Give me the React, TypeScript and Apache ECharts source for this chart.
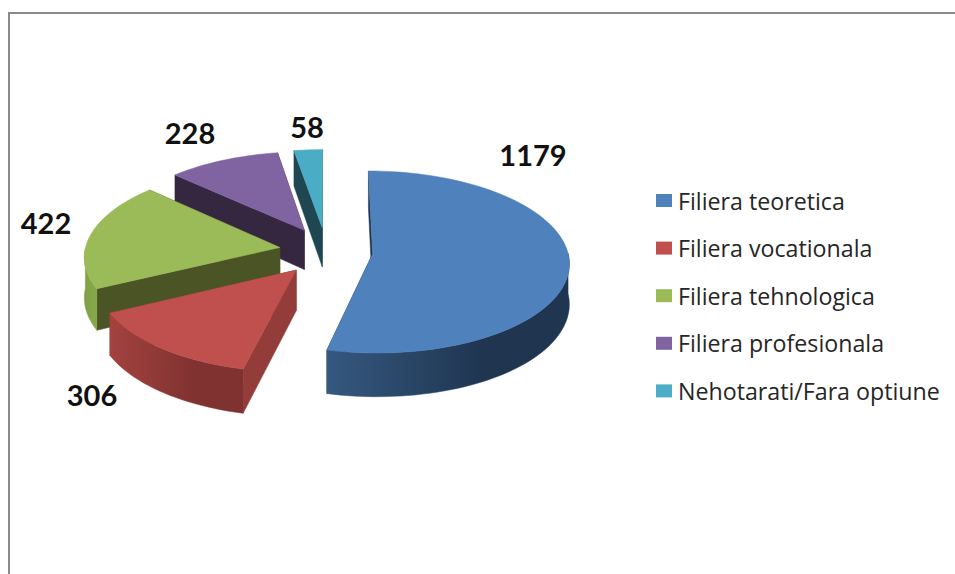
import React, { useEffect, useRef } from "react";
import * as echarts from "echarts";

const categories = [
  "Filiera teoretica",
  "Filiera vocationala",
  "Filiera tehnologica",
  "Filiera profesionala",
  "Nehotarati/Fara optiune",
];
const values = [1179, 306, 422, 228, 58];

const topColors = ["#4f81bd", "#c0504d", "#9bbb59", "#8064a2", "#4bacc6"];
const cutColors = ["#1f3550", "#933c3a", "#4b5425", "#362741", "#1e4752"];
const rimStops = [
  ["#35587f", "#1f3550"],
  ["#a3423f", "#7f3230"],
  ["#7f9f42", "#86a64a"],
  ["#5f4a7a", "#5f4a7a"],
  ["#38808f", "#38808f"],
];
const labelPositions = [
  [533, 154],
  [92, 394],
  [46, 222],
  [190, 132],
  [307, 126],
];

const CX = 326;
const CY = 251;
const RX = 195;
const RY = 90.5;
const PERSPECTIVE = 0.09;
const EXPLODE_X = 0.24;
const EXPLODE_Y = 0.265;
const DEPTH = 40;

const total = values.reduce((a, b) => a + b, 0);

function sliceAngles(i: number) {
  let start = 0;
  for (let k = 0; k < i; k++) start += values[k];
  const a0 = (start / total) * Math.PI * 2;
  const a1 = ((start + values[i]) / total) * Math.PI * 2;
  return [a0, a1];
}

function project(px: number, py: number, lift: number) {
  const s = 1 + PERSPECTIVE * py;
  return [CX + RX * px * s, CY + RY * py * s + lift * DEPTH * s];
}

function buildSlice(i: number) {
  const [a0, a1] = sliceAngles(i);
  const mid = (a0 + a1) / 2;
  const ex = EXPLODE_X * Math.sin(mid);
  const ey = -EXPLODE_Y * Math.cos(mid);
  const steps = Math.max(4, Math.round(((a1 - a0) * 180) / Math.PI / 2));
  const rim: number[][] = [];
  const frontRim: number[][] = [];
  const frontLow: number[][] = [];
  for (let n = 0; n <= steps; n++) {
    const a = a0 + ((a1 - a0) * n) / steps;
    const px = ex + Math.sin(a);
    const py = ey - Math.cos(a);
    rim.push(project(px, py, 0));
    if (Math.cos(a) < 0.02) {
      frontRim.push(project(px, py, 0));
      frontLow.push(project(px, py, 1));
    }
  }
  const rimLowStart = project(ex + Math.sin(a0), ey - Math.cos(a0), 1);
  const rimLowEnd = project(ex + Math.sin(a1), ey - Math.cos(a1), 1);
  const tip = project(ex, ey, 0);
  const tipLow = project(ex, ey, 1);
  return { rim, frontRim, frontLow, rimLowStart, rimLowEnd, tip, tipLow };
}

function poly(points: number[][], fill: any) {
  return {
    type: "polygon",
    shape: { points },
    style: { fill, stroke: fill, lineWidth: 0.5 },
  };
}

function makeRenderItem(i: number) {
  return () => {
    const { rim, frontRim, frontLow, rimLowStart, rimLowEnd, tip, tipLow } = buildSlice(i);
    const last = rim.length - 1;
    const wallGradient = new echarts.graphic.LinearGradient(0, 0, 1, 0, [
      { offset: 0, color: rimStops[i][0] },
      { offset: 0.65, color: rimStops[i][1] },
      { offset: 1, color: rimStops[i][1] },
    ]);
    const children: any[] = [
      poly([tip, rim[0], rimLowStart, tipLow], cutColors[i]),
      poly([tip, rim[last], rimLowEnd, tipLow], cutColors[i]),
    ];
    if (frontRim.length > 1) {
      children.push(poly([...frontRim, ...frontLow.slice().reverse()], wallGradient));
    }
    children.push(poly([tip, ...rim], topColors[i]));
    children.push({
      type: "text",
      style: {
        text: String(values[i]),
        x: labelPositions[i][0],
        y: labelPositions[i][1],
        align: "center",
        verticalAlign: "middle",
        fill: "#111111",
        font: 'bold 29px Lato, "Open Sans", sans-serif',
      },
    });
    return { type: "group", children };
  };
}

export default function App() {
  const ref = useRef<HTMLDivElement>(null);
  useEffect(() => {
    document.body.style.margin = "0";
    const chart = echarts.init(ref.current!, null, { renderer: "svg" });
    const series = categories
      .map((name, i) => ({
        type: "custom",
        name,
        coordinateSystem: "none",
        renderItem: makeRenderItem(i),
        itemStyle: { color: topColors[i] },
        data: [values[i]],
        silent: true,
      }))
      .reverse();
    chart.setOption({
      animation: false,
      backgroundColor: "#ffffff",
      legend: {
        data: categories,
        orient: "vertical",
        left: 651,
        top: 184,
        icon: "rect",
        itemWidth: 16,
        itemHeight: 13,
        itemGap: 24.6,
        selectedMode: false,
        textStyle: {
          fontFamily: '"Open Sans", Lato, sans-serif',
          fontSize: 23.2,
          lineHeight: 21.2,
          color: "#262626",
          padding: [0, 0, 0, 1],
        },
      },
      graphic: [
        {
          type: "line",
          shape: { x1: 8, y1: 13, x2: 955, y2: 13 },
          style: { stroke: "#8a8a8a", lineWidth: 2 },
        },
        {
          type: "line",
          shape: { x1: 9, y1: 13, x2: 9, y2: 574 },
          style: { stroke: "#8a8a8a", lineWidth: 2 },
        },
      ],
      series,
    });
    return () => chart.dispose();
  }, []);
  return <div ref={ref} style={{ position: "fixed", left: 0, top: 0, width: 955, height: 574 }} />;
}
